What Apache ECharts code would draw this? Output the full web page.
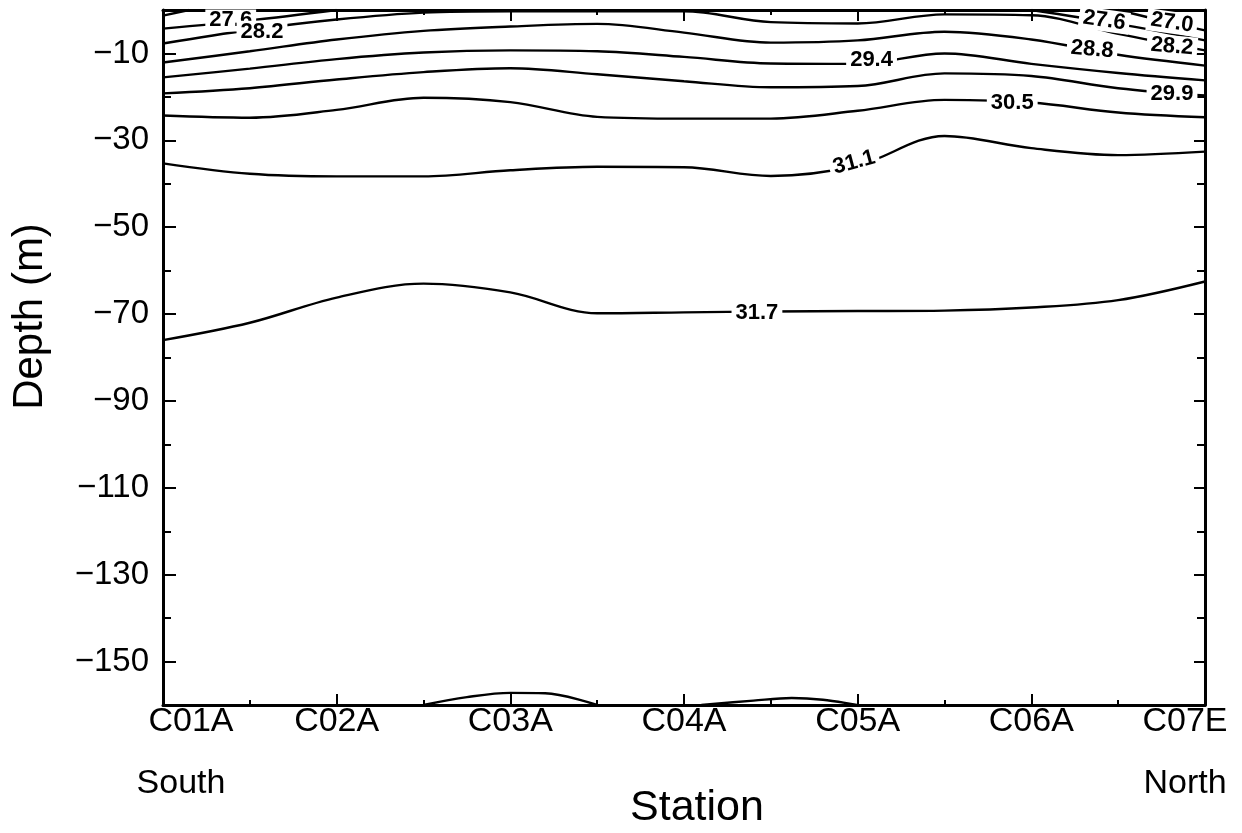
<!DOCTYPE html>
<html lang="en">
<head>
<meta charset="UTF-8">
<title>Salinity section C01A - C07E</title>
<script src="https://cdn.jsdelivr.net/npm/echarts@6/dist/echarts.min.js"></script>
<style>
    html, body {margin: 0; padding: 0; background: #fff;}
    #main {width: 1242px; height: 833px;}
</style>
</head>
<body>
<div id="main"></div>
<script>
    // stations along the section (x = station index)
    var stationNames = ['C01A', 'C02A', 'C03A', 'C04A', 'C05A', 'C06A', 'C07E'];
    var stationSub = ['South', '', '', '', '', '', 'North'];
    var depthLabels = [-150, -130, -110, -90, -70, -50, -30, -10];
    var depthMinor = [-140, -120, -100, -80, -60, -40, -20];

    // contour depths (m) read at every half station
    var gridX = [0, 0.5, 1, 1.5, 2, 2.5, 3, 3.5, 4, 4.5, 5, 5.5, 6];
    var sal317 = [-76.0, -72.0, -66.2, -63.0, -65.0, -69.8, -69.6, -69.4, -69.3, -69.2, -68.5, -66.8, -62.5];
    var sal311 = [-35.3, -37.7, -38.3, -38.3, -36.9, -36.1, -36.2, -38.2, -35.8, -29.0, -31.8, -33.4, -32.6];
    var sal305 = [-24.3, -24.8, -23.0, -20.2, -21.2, -24.6, -25.0, -25.0, -23.2, -20.7, -21.3, -23.6, -24.7];
    var sal299 = [-19.2, -18.0, -16.0, -14.3, -13.4, -14.8, -16.4, -17.8, -17.5, -14.6, -15.2, -18.0, -19.7];
    var sal294 = [-15.5, -13.5, -11.3, -9.8, -9.3, -9.5, -10.8, -12.3, -12.4, -10.0, -12.4, -14.5, -16.2];
    var sal288 = [-12.1, -9.5, -6.8, -4.8, -3.8, -3.2, -5.2, -7.5, -7.0, -5.0, -6.8, -10.3, -12.8];
    var sal282 = [-7.7, -4.6, -2.2, -0.6, -0.3, -0.3, -0.3, -2.8, -3.1, -1.0, -1.2, -5.5, -9.3];
    var sal276 = [-4.3, -2.4, 0, null, null, null, null, null, null, null, 0, -3.2, -7.0];
    // short pieces with their own x
    var sal270X = [0, 0.15, null, 5.5, 5.8, 6];
    var sal270 = [-1.3, 0, null, 0, -2.9, -4.7];
    var bumpAX = [1.5, 1.75, 2.0, 2.2, 2.5];
    var bumpA = [-160, -158.2, -157.2, -157.3, -160];
    var bumpBX = [3.1, 3.4, 3.62, 3.8, 4.0];
    var bumpB = [-160, -159, -158.4, -158.8, -160];

    // contour labels
    var labelText = ['27.6', '28.2', '29.4', '27.6', '27.0', '28.8', '28.2', '29.9', '30.5', '31.1', '31.7'];
    var labelX = [0.39, 0.57, 4.08, 5.42, 5.81, 5.35, 5.81, 5.81, 4.89, 3.98, 3.42];
    var labelD = [-2.4, -5.0, -11.4, -2.4, -2.9, -9.1, -8.4, -19.4, -21.5, -35.1, -69.7];
    var labelRot = [0, 0, 0, -8, -8, -5, -5, 0, 0, 15, 0];

    var font = 'Liberation Sans, Arial, Helvetica, sans-serif';
    var series = [];

    // split on nulls so each piece becomes its own line
    function addContour(xs, ds) {
        var seg = [];
        for (var i = 0; i <= ds.length; i++) {
            if (i === ds.length || ds[i] === null || xs[i] === null) {
                if (seg.length > 1) {
                    series.push({
                        type: 'line',
                        data: seg,
                        smooth: 0.35,
                        symbol: 'none',
                        silent: true,
                        lineStyle: {color: '#000', width: 2.4},
                        z: 2
                    });
                }
                seg = [];
            } else {
                seg.push([xs[i], ds[i]]);
            }
        }
    }
    addContour(gridX, sal317);
    addContour(gridX, sal311);
    addContour(gridX, sal305);
    addContour(gridX, sal299);
    addContour(gridX, sal294);
    addContour(gridX, sal288);
    addContour(gridX, sal282);
    addContour(gridX, sal276);
    addContour(sal270X, sal270);
    addContour(bumpAX, bumpA);
    addContour(bumpBX, bumpB);

    var labelData = [];
    for (var k = 0; k < labelText.length; k++) {
        labelData.push({value: [labelX[k], labelD[k]], label: {rotate: labelRot[k]}});
    }
    series.push({
        type: 'scatter',
        data: labelData,
        symbolSize: 1,
        silent: true,
        itemStyle: {color: '#fff'},
        z: 5,
        label: {
            show: true,
            position: 'inside',
            formatter: function (p) { return labelText[p.dataIndex]; },
            fontFamily: font,
            fontSize: 22,
            fontWeight: 'bold',
            color: '#000',
            opacity: 1,
            textBorderWidth: 0,
            backgroundColor: '#fff',
            padding: [0, 4]
        }
    });

    var blackLine = {show: true, onZero: false, lineStyle: {color: '#000', width: 3}};
    var noLine = {show: false, onZero: false};
    var tickStyle = {color: '#000', width: 2};

    var myChart = echarts.init(document.getElementById('main'));
    var option = {
        animation: false,
        backgroundColor: '#fff',
        textStyle: {fontFamily: font, color: '#000'},
        grid: {left: 163, right: 37, top: 10, bottom: 128, outerBoundsMode: 'none', containLabel: false},
        xAxis: [{
            type: 'value', min: 0, max: 6, interval: 1, position: 'bottom',
            axisLine: blackLine,
            axisTick: {inside: true, length: 11, lineStyle: tickStyle},
            minorTick: {show: true, splitNumber: 2, length: 5, lineStyle: tickStyle},
            splitLine: {show: false},
            axisLabel: {
                formatter: function (v) {
                    var i = Math.round(v);
                    if (i === 0) return '{f1|' + stationNames[i] + '}\n{f2|' + stationSub[i] + '}';
                    if (i === 6) return '{l|' + stationNames[i] + '}\n{l|' + stationSub[i] + '}';
                    return '{n|' + stationNames[i] + '}\n{n| }';
                },
                color: '#000', margin: -14,
                rich: {
                    n: {fontSize: 34, lineHeight: 62, color: '#000'},
                    f1: {fontSize: 34, lineHeight: 62, color: '#000', padding: [0, 0, 0, 56]},
                    f2: {fontSize: 34, lineHeight: 62, color: '#000', padding: [0, 0, 0, 36]},
                    l: {fontSize: 34, lineHeight: 62, color: '#000', padding: [0, 40, 0, 0]}
                }
            },
            name: 'Station', nameLocation: 'middle', nameGap: 82, nameMoveOverlap: false,
            nameTextStyle: {fontSize: 43, color: '#000', padding: [0, 0, 0, 26]}
        }, {
            type: 'value', min: 0, max: 6, interval: 1, position: 'top',
            axisLine: blackLine,
            axisTick: {inside: true, length: 11, lineStyle: tickStyle},
            minorTick: {show: true, splitNumber: 2, length: 5, lineStyle: tickStyle},
            splitLine: {show: false},
            axisLabel: {show: false}
        }],
        yAxis: [{
            type: 'value', min: -160, max: 0, interval: 10, position: 'left',
            axisLine: blackLine,
            axisTick: {inside: true, length: 13, lineStyle: tickStyle, customValues: depthLabels},
            splitLine: {show: false},
            axisLabel: {
                customValues: depthLabels,
                formatter: function (v) { return v % 20 === 0 ? '' : '\u2212' + Math.abs(v); },
                fontSize: 33, color: '#000', margin: 14
            },
            name: 'Depth (m)', nameLocation: 'middle', nameGap: 112, nameMoveOverlap: false,
            nameTextStyle: {fontSize: 42, color: '#000', padding: [0, 0, 0, 82]}
        }, {
            type: 'value', min: -160, max: 0, interval: 10, position: 'left',
            axisLine: noLine,
            axisTick: {inside: true, length: 8, lineStyle: tickStyle, customValues: depthMinor},
            splitLine: {show: false},
            axisLabel: {show: false}
        }, {
            type: 'value', min: -160, max: 0, interval: 10, position: 'right',
            axisLine: blackLine,
            axisTick: {inside: true, length: 11, lineStyle: tickStyle, customValues: depthLabels},
            splitLine: {show: false},
            axisLabel: {show: false}
        }, {
            type: 'value', min: -160, max: 0, interval: 10, position: 'right',
            axisLine: noLine,
            axisTick: {inside: true, length: 8, lineStyle: tickStyle, customValues: depthMinor},
            splitLine: {show: false},
            axisLabel: {show: false}
        }],
        series: series
    };
    myChart.setOption(option);
</script>
</body>
</html>
